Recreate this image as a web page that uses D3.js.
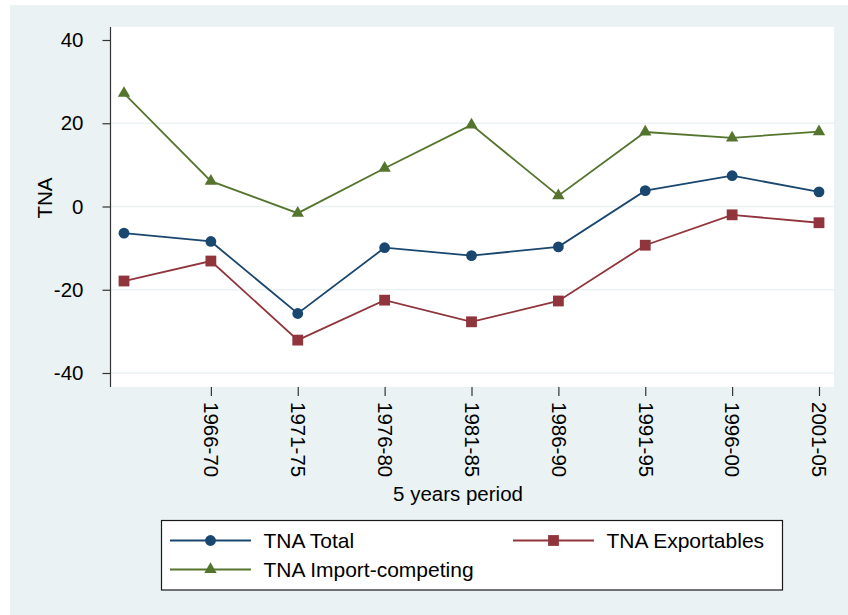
<!DOCTYPE html>
<html>
<head>
<meta charset="utf-8">
<script src="https://cdn.jsdelivr.net/npm/d3@7/dist/d3.min.js"></script>
<style>
  html, body { margin: 0; padding: 0; background: #ffffff; }
  svg { display: block; font-family: "Liberation Sans", Arial, Helvetica, sans-serif; }
</style>
</head>
<body>
<svg id="chart" width="848" height="615"></svg>
<script>
// Five-year periods (x = 1..9); the first period carries no label
const periodIndex = [1, 2, 3, 4, 5, 6, 7, 8, 9];
const tickPositions = [2, 3, 4, 5, 6, 7, 8, 9];
const tickLabels = ["1966-70", "1971-75", "1976-80", "1981-85", "1986-90", "1991-95", "1996-00", "2001-05"];
const yTicks = [-40, -20, 0, 20, 40];

// TNA series
const tnaTotal = [-6.4, -8.4, -25.7, -9.9, -11.8, -9.7, 3.8, 7.4, 3.5];
const tnaExportables = [-17.9, -13.1, -32.1, -22.5, -27.7, -22.7, -9.3, -2.0, -3.9];
const tnaImport = [27.2, 6.1, -1.6, 9.2, 19.6, 2.6, 17.9, 16.5, 18.0];

const seriesNames = ["TNA Total", "TNA Exportables", "TNA Import-competing"];
const seriesColors = ["#1a476f", "#90353b", "#55752f"];
const seriesShapes = ["circle", "square", "triangle"];
const seriesValues = [tnaTotal, tnaExportables, tnaImport];

const svg = d3.select("#chart");

// graph region
svg.append("rect").attr("x", 10).attr("y", 5).attr("width", 838).attr("height", 610).attr("fill", "#eaf2f3");

const plot = { left: 110.5, right: 834, top: 27, bottom: 387 };
svg.append("rect")
  .attr("x", plot.left).attr("y", plot.top)
  .attr("width", plot.right - plot.left).attr("height", plot.bottom - plot.top)
  .attr("fill", "#ffffff");

const x = d3.scaleLinear().domain([1, 9]).range([124, 819]);
const y = d3.scaleLinear().domain([-40, 40]).range([373, 40]);

// grid lines
svg.append("g").selectAll("line")
  .data(yTicks.filter(t => t < 40))
  .join("line")
  .attr("x1", plot.left).attr("x2", plot.right)
  .attr("y1", d => y(d)).attr("y2", d => y(d))
  .attr("stroke", "#eaf2f3").attr("stroke-width", 1.6);

// y axis (plain hyphen for negatives)
const yAxis = d3.axisLeft(y).tickValues(yTicks).tickSize(8).tickPadding(19).tickFormat(d => String(d));
const gy = svg.append("g").attr("transform", `translate(${plot.left},0)`).call(yAxis);
gy.select(".domain").remove();
gy.append("line").attr("x1", 0).attr("x2", 0).attr("y1", plot.top).attr("y2", plot.bottom)
  .attr("stroke", "#333333").attr("stroke-width", 1.2);
gy.selectAll(".tick line").attr("stroke", "#333333").attr("stroke-width", 1.2);
gy.selectAll(".tick text").attr("font-size", 20.5).attr("fill", "#000").attr("font-family", "Liberation Sans, Arial, sans-serif");

// x axis
const xAxis = d3.axisBottom(x).tickValues(tickPositions).tickSize(9)
  .tickFormat((d, i) => tickLabels[i]);
const gx = svg.append("g").attr("transform", `translate(0,${plot.bottom})`).call(xAxis);
gx.select(".domain").remove();
gx.selectAll(".tick line").attr("stroke", "#333333").attr("stroke-width", 1.2);
gx.selectAll(".tick text")
  .attr("font-size", 20.5).attr("fill", "#000").attr("font-family", "Liberation Sans, Arial, sans-serif")
  .attr("text-anchor", "start")
  .attr("transform", "translate(0,15) rotate(90)")
  .attr("x", 0).attr("y", 0).attr("dy", "0.35em");

// axis titles
svg.append("text").attr("x", 458).attr("y", 501).attr("text-anchor", "middle")
  .attr("font-size", 20.5).text("5 years period");
svg.append("text").attr("transform", "translate(52,198) rotate(-90)").attr("text-anchor", "middle")
  .attr("font-size", 20.5).text("TNA");

// marker drawing helper
function drawMarker(sel, shape, color) {
  if (shape === "circle") {
    sel.append("circle").attr("r", 5.4).attr("fill", color);
  } else if (shape === "square") {
    sel.append("rect").attr("x", -5.4).attr("y", -5.4).attr("width", 10.8).attr("height", 10.8).attr("fill", color);
  } else {
    sel.append("path").attr("d", d3.symbol().type(d3.symbolTriangle).size(66)()).attr("fill", color);
  }
}

// series lines and markers
const line = d3.line().x((d, i) => x(periodIndex[i])).y(d => y(d));
seriesValues.forEach((vals, s) => {
  svg.append("path").datum(vals).attr("d", line)
    .attr("fill", "none").attr("stroke", seriesColors[s]).attr("stroke-width", 1.8);
  vals.forEach((v, i) => {
    const g = svg.append("g").attr("transform", `translate(${x(periodIndex[i])},${y(v)})`);
    drawMarker(g, seriesShapes[s], seriesColors[s]);
  });
});

// legend
const legend = svg.append("g");
legend.append("rect").attr("x", 161.5).attr("y", 520.5).attr("width", 621).attr("height", 69.5)
  .attr("fill", "#ffffff").attr("stroke", "#1a1a1a").attr("stroke-width", 1.2);
const legendPos = [
  { lx: 170, ly: 540.5 },
  { lx: 513, ly: 540.5 },
  { lx: 170, ly: 569.5 }
];
seriesNames.forEach((name, s) => {
  const p = legendPos[s];
  const g = legend.append("g").attr("transform", `translate(${p.lx},${p.ly})`);
  g.append("line").attr("x1", 0).attr("x2", 81).attr("y1", 0).attr("y2", 0)
    .attr("stroke", seriesColors[s]).attr("stroke-width", 2);
  const m = g.append("g").attr("transform", "translate(40.5,0)");
  drawMarker(m, seriesShapes[s], seriesColors[s]);
  g.append("text").attr("x", 93.5).attr("y", 0).attr("dy", "0.36em")
    .attr("font-size", 21).text(name);
});
</script>
</body>
</html>
